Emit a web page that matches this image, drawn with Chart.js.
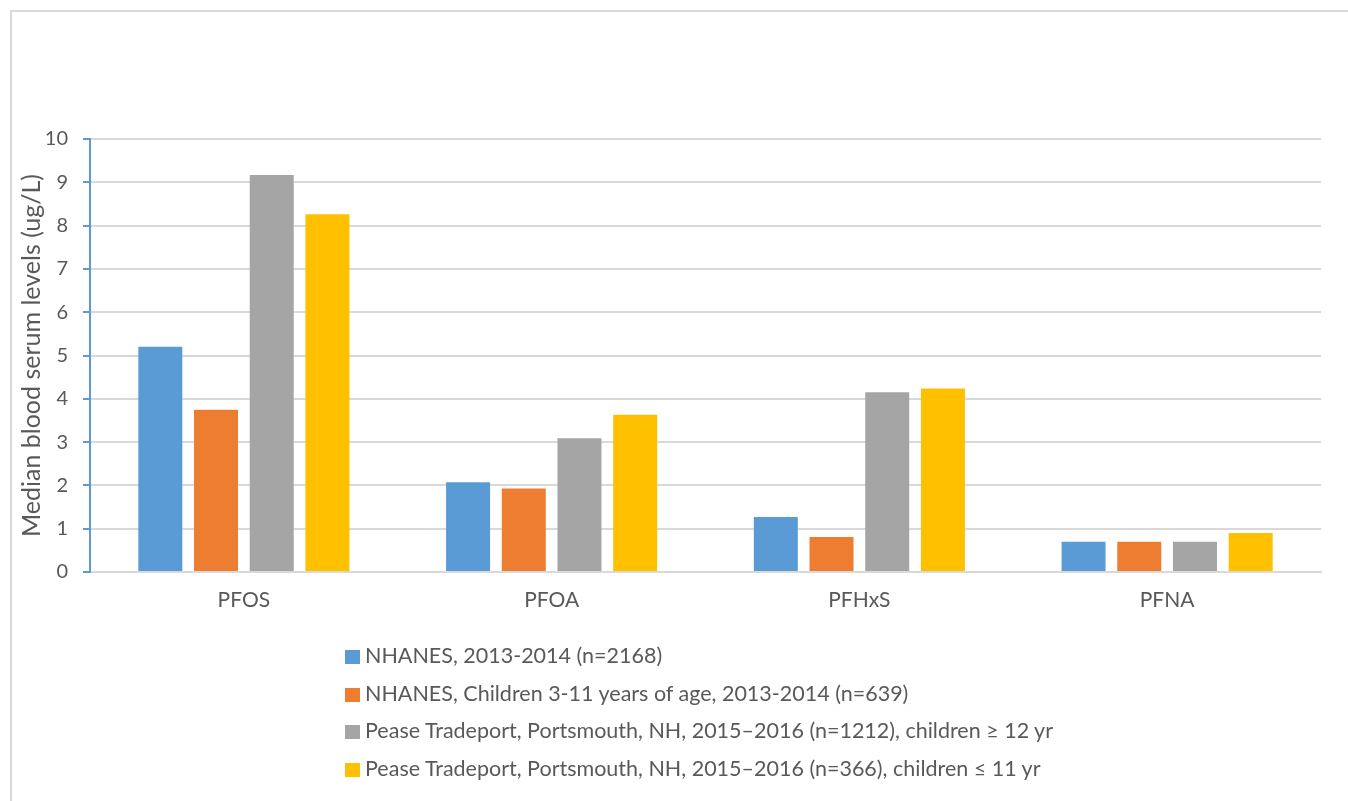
<!DOCTYPE html>
<html>
<head>
<meta charset="utf-8">
<script src="https://cdn.jsdelivr.net/npm/chart.js@4/dist/chart.umd.min.js"></script>
<style>
  html, body { margin: 0; padding: 0; background: #fff; }
  #wrap { position: relative; width: 1348px; height: 801px; overflow: hidden; }
  #frame { position: absolute; left: 10px; top: 10px; width: 1400px; height: 900px; border: 2px solid #d9d9d9; box-sizing: border-box; }
  canvas { position: absolute; left: 0; top: 0; }
  #legend { position: absolute; left: 345px; top: 637px; font-family: Lato, sans-serif; font-size: 21.5px; color: #595959; }
  #legend div { height: 37.7px; line-height: 37.7px; white-space: nowrap; }
  #legend span { display: inline-block; width: 15px; height: 14px; margin-right: 5px; vertical-align: -1px; }
</style>
</head>
<body>
<div id="wrap">
  <div id="frame"></div>
  <canvas id="serumChart" width="1348" height="801"></canvas>
  <div id="legend"></div>
</div>
<script>
const compounds = ['PFOS', 'PFOA', 'PFHxS', 'PFNA'];

const nhanesAll = [5.2, 2.07, 1.27, 0.7];
const nhanesChildren = [3.75, 1.93, 0.81, 0.7];
const peaseOlder = [9.17, 3.09, 4.15, 0.7];
const peaseYounger = [8.26, 3.63, 4.24, 0.9];

const seriesLabels = [
  'NHANES, 2013-2014 (n=2168)',
  'NHANES, Children 3-11 years of age, 2013-2014 (n=639)',
  'Pease Tradeport, Portsmouth, NH, 2015\u20132016 (n=1212), children \u2265 12 yr',
  'Pease Tradeport, Portsmouth, NH, 2015\u20132016 (n=366), children \u2264 11 yr'
];
const seriesColors = ['#5b9bd5', '#ed7d31', '#a5a5a5', '#ffc000'];
const seriesData = [nhanesAll, nhanesChildren, peaseOlder, peaseYounger];

const textColor = '#595959';
const fontFamily = 'Lato, sans-serif';

const ctx = document.getElementById('serumChart');

new Chart(ctx, {
  type: 'bar',
  data: {
    labels: compounds,
    datasets: seriesData.map((values, i) => ({
      label: seriesLabels[i],
      data: values,
      backgroundColor: seriesColors[i],
      borderWidth: 0,
      categoryPercentage: 0.724,
      barPercentage: 0.79
    }))
  },
  options: {
    responsive: false,
    animation: false,
    layout: { padding: { top: 139, right: 27, left: 0, bottom: 0 } },
    plugins: {
      legend: { display: false },
      tooltip: { enabled: false }
    },
    scales: {
      x: {
        grid: { display: false, drawTicks: false },
        border: { color: '#d9d9d9', width: 2 },
        ticks: { color: textColor, font: { family: fontFamily, size: 21 }, padding: 16 },
        afterFit: (scale) => { scale.height = 229; }
      },
      y: {
        min: 0,
        max: 10,
        ticks: { stepSize: 1, color: textColor, font: { family: fontFamily, size: 20 }, padding: 15 },
        grid: { color: '#d9d9d9', lineWidth: 2, tickColor: '#5b9bd5', tickWidth: 2, tickLength: 7 },
        border: { color: '#5b9bd5', width: 2 },
        title: {
          display: true,
          text: 'Median blood serum levels (ug/L)',
          color: textColor,
          font: { family: fontFamily, size: 25 },
          padding: { top: 17, bottom: 0 }
        },
        afterFit: (scale) => { scale.width = 90; }
      }
    }
  }
});

// vertical legend under the chart
const legendBox = document.getElementById('legend');
seriesLabels.forEach((text, i) => {
  const row = document.createElement('div');
  const swatch = document.createElement('span');
  swatch.style.background = seriesColors[i];
  row.appendChild(swatch);
  row.appendChild(document.createTextNode(text));
  legendBox.appendChild(row);
});
</script>
</body>
</html>
